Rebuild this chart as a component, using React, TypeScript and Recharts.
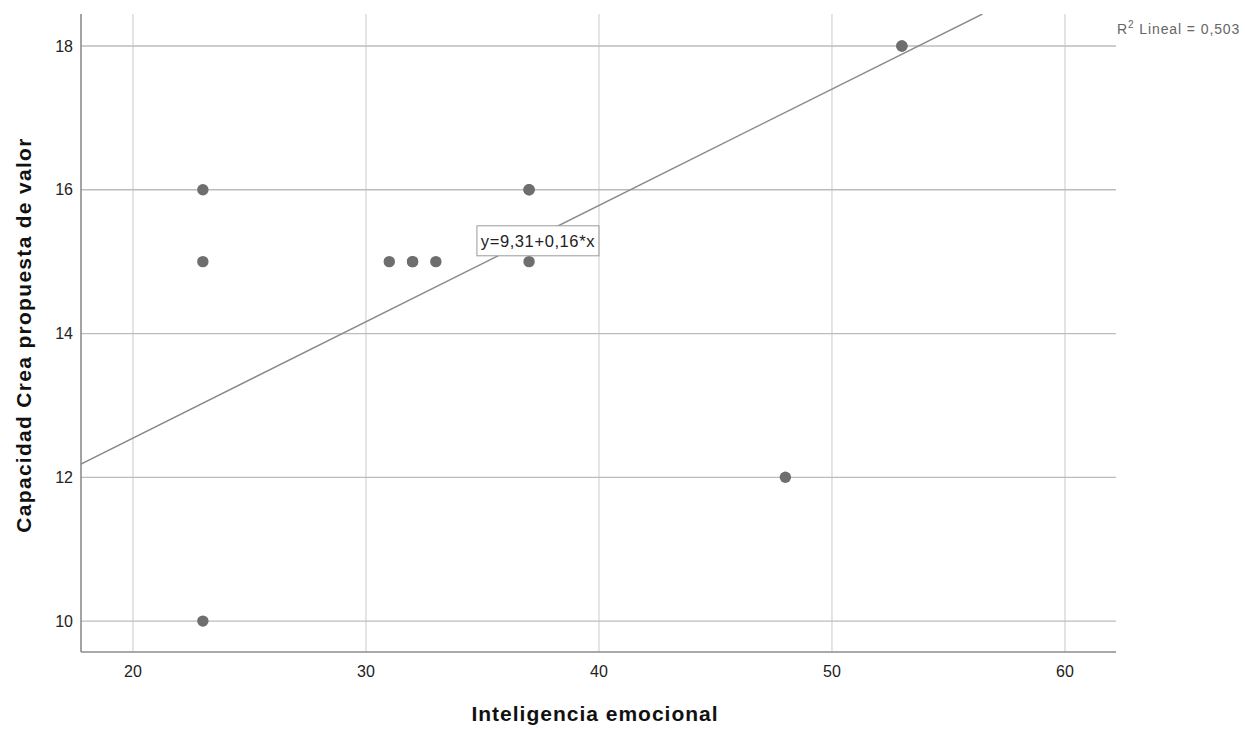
import React from 'react';
import { ScatterChart, Scatter, XAxis, YAxis, CartesianGrid, ReferenceDot, Label } from 'recharts';

const xValues = [23, 23, 23, 31, 32, 32, 33, 37, 37, 37, 48, 53, 53];
const yValues = [16, 15, 10, 15, 15, 15, 15, 16, 16, 15, 12, 18, 18];
const xTicks = [20, 30, 40, 50, 60];
const yTicks = [10, 12, 14, 16, 18];
const xDomain: [number, number] = [17.77, 62.19];
const yDomain: [number, number] = [9.57, 18.445];
const intercept = 9.31;
const slope = 0.1618;
const equationText = 'y=9,31+0,16*x';
const equationPos = { x: 37.38, y: 15.29 };
const r2Text = ' Lineal = 0,503';

const points = xValues.map((x, i) => ({ x, y: yValues[i] }));
const fitX1 = xDomain[0];
const fitX2 = Math.min(xDomain[1], (yDomain[1] - intercept) / slope);
const fitLine = [
  { x: fitX1, y: intercept + slope * fitX1 },
  { x: fitX2, y: intercept + slope * fitX2 },
];

const FONT = '"Liberation Sans", Arial, sans-serif';

const Dot = (p: any) => <circle cx={p.cx} cy={p.cy} r={5.7} fill="#6e6e6e" />;

const EqBox = (p: any) => (
  <g>
    <rect x={p.cx - 61} y={p.cy - 15} width={122} height={30} fill="#ffffff" stroke="#9a9a9a" strokeWidth={1} />
    <text x={p.cx} y={p.cy + 6} textAnchor="middle" fontSize={16.5} fill="#222" fontFamily={FONT} letterSpacing={0.6}>
      {equationText}
    </text>
  </g>
);

export default function App() {
  return (
    <div style={{ position: 'absolute', left: 0, top: 0, width: 1245, height: 729, background: '#fff', fontFamily: FONT }}>
      <ScatterChart width={1245} height={729} margin={{ top: 14, right: 129, bottom: 47, left: 21 }}>
        <CartesianGrid horizontal={false} vertical={true} stroke="#d6d6d6" strokeWidth={1.3} verticalValues={xTicks} />
        <CartesianGrid horizontal={true} vertical={false} stroke="#bcbcbc" strokeWidth={1.3} horizontalValues={yTicks} />
        <XAxis
          type="number"
          dataKey="x"
          domain={xDomain}
          ticks={xTicks}
          allowDataOverflow
          height={30}
          tickLine={false}
          tickSize={8}
          tickMargin={6}
          axisLine={{ stroke: '#8c8c8c', strokeWidth: 1.6 }}
          tick={{ fill: '#222', fontSize: 16, fontFamily: FONT }}
        >
          <Label
            content={() => (
              <text x={595} y={721} textAnchor="middle" fontSize={21} fontWeight="bold" fill="#111" fontFamily={FONT} letterSpacing={1}>
                Inteligencia emocional
              </text>
            )}
          />
        </XAxis>
        <YAxis
          type="number"
          dataKey="y"
          domain={yDomain}
          ticks={yTicks}
          allowDataOverflow
          width={60}
          tickLine={false}
          tickSize={8}
          tickMargin={0}
          axisLine={{ stroke: '#8c8c8c', strokeWidth: 1.6 }}
          tick={{ fill: '#222', fontSize: 16, fontFamily: FONT }}
        >
          <Label
            content={() => (
              <text
                x={31}
                y={335}
                transform="rotate(-90 31 335)"
                textAnchor="middle"
                fontSize={21}
                fontWeight="bold"
                fill="#111"
                fontFamily={FONT}
                letterSpacing={1.3}
              >
                Capacidad Crea propuesta de valor
              </text>
            )}
          />
        </YAxis>
        <Scatter
          data={fitLine}
          line={{ stroke: '#8a8a8a', strokeWidth: 1.4 }}
          shape={() => null}
          isAnimationActive={false}
        />
        <Scatter data={points} shape={Dot} isAnimationActive={false} />
        <ReferenceDot x={equationPos.x} y={equationPos.y} r={0} shape={EqBox} />
      </ScatterChart>
      <div style={{ position: 'absolute', left: 1117, top: 19, fontSize: 14, color: '#666', fontFamily: FONT, letterSpacing: 0.9, whiteSpace: 'nowrap' }}>
        R<sup style={{ fontSize: 10 }}>2</sup>
        {r2Text}
      </div>
    </div>
  );
}
